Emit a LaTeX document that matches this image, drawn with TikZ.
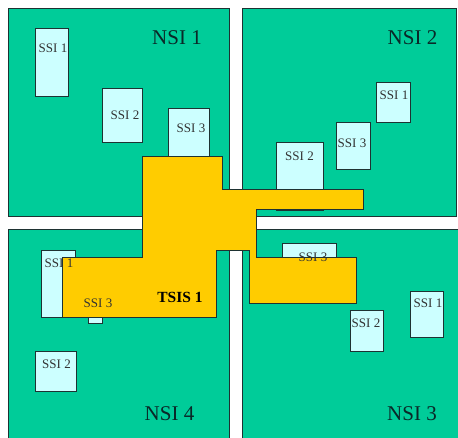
\documentclass[tikz,border=0pt]{standalone}
\usepackage{fontspec}
\setmainfont{Liberation Serif}
\definecolor{nsigreen}{RGB}{0,204,153}
\definecolor{ssicyan}{RGB}{204,255,255}
\definecolor{tsisyellow}{RGB}{255,204,0}
\definecolor{edgegray}{RGB}{30,50,50}
\definecolor{nsitext}{RGB}{10,40,40}
\tikzset{
  nsibox/.style={fill=nsigreen,draw=edgegray,line width=0.9pt},
  ssibox/.style={fill=ssicyan,draw=edgegray,line width=0.9pt},
  tsisbox/.style={fill=tsisyellow,draw=edgegray,line width=0.9pt},
  nsilabel/.style={anchor=base,inner sep=0pt,text=nsitext,font=\fontsize{21}{21}\selectfont},
  ssilabel/.style={anchor=base,inner sep=0pt,text=black!80,font=\fontsize{13}{13}\selectfont},
  tsislabel/.style={anchor=base,inner sep=0pt,text=black,font=\fontsize{15.5}{15.5}\selectfont\bfseries}
}
\begin{document}
\begin{tikzpicture}[x=1pt,y=-1pt]
\useasboundingbox (0,0) rectangle (458,437);
\begin{scope}
\clip (0,0) rectangle (458,437);
\fill[white] (0,0) rectangle (458,437);
% NSI regions
\draw[nsibox] (8,8) rectangle (229,216);
\draw[nsibox] (242,8) rectangle (456,216);
\draw[nsibox] (8,229) rectangle (229,445);
\draw[nsibox] (242,229) rectangle (466,445);
% SSI boxes
\draw[ssibox] (35,28) rectangle (68,96);
\draw[ssibox] (102,88) rectangle (142,142);
\draw[ssibox] (168,108) rectangle (209,160);
\draw[ssibox] (376,82) rectangle (410,122);
\draw[ssibox] (336,122) rectangle (370,169);
\draw[ssibox] (276,142) rectangle (323,210);
\draw[ssibox] (41,250) rectangle (75,317);
\draw[ssibox] (88,300) rectangle (102,323);
\draw[ssibox] (35,351) rectangle (76,391);
\draw[ssibox] (282,243) rectangle (336,270);
\draw[ssibox] (350,310) rectangle (383,351);
\draw[ssibox] (410,291) rectangle (443,337);
% TSIS
\draw[tsisbox] (142,156) -- (222,156) -- (222,189) -- (363,189) -- (363,209)
  -- (256,209) -- (256,257) -- (356,257) -- (356,303) -- (249,303) -- (249,250)
  -- (216,250) -- (216,317) -- (62,317) -- (62,257) -- (142,257) -- cycle;
\end{scope}
% labels
\node[nsilabel] (n1) at (177,44) {NSI 1};
\node[nsilabel] (n2) at (412.5,44) {NSI 2};
\node[nsilabel] (n3) at (412,420) {NSI 3};
\node[nsilabel] (n4) at (169.5,420) {NSI 4};
\node[ssilabel] (a1) at (53,52) {SSI 1};
\node[ssilabel] (a2) at (125,119) {SSI 2};
\node[ssilabel] (a3) at (191,132) {SSI 3};
\node[ssilabel] (b1) at (394,99) {SSI 1};
\node[ssilabel] (b3) at (352,147) {SSI 3};
\node[ssilabel] (b2) at (299.5,160) {SSI 2};
\node[ssilabel] (d1) at (59,267) {SSI 1};
\node[ssilabel] (d3) at (98,307) {SSI 3};
\node[ssilabel] (d2) at (56.5,368) {SSI 2};
\node[ssilabel] (c3) at (313,261) {SSI 3};
\node[ssilabel] (c2) at (366,327) {SSI 2};
\node[ssilabel] (c1) at (428,307) {SSI 1};
\node[tsislabel] (t1) at (180,302) {TSIS 1};
\end{tikzpicture}
\end{document}
